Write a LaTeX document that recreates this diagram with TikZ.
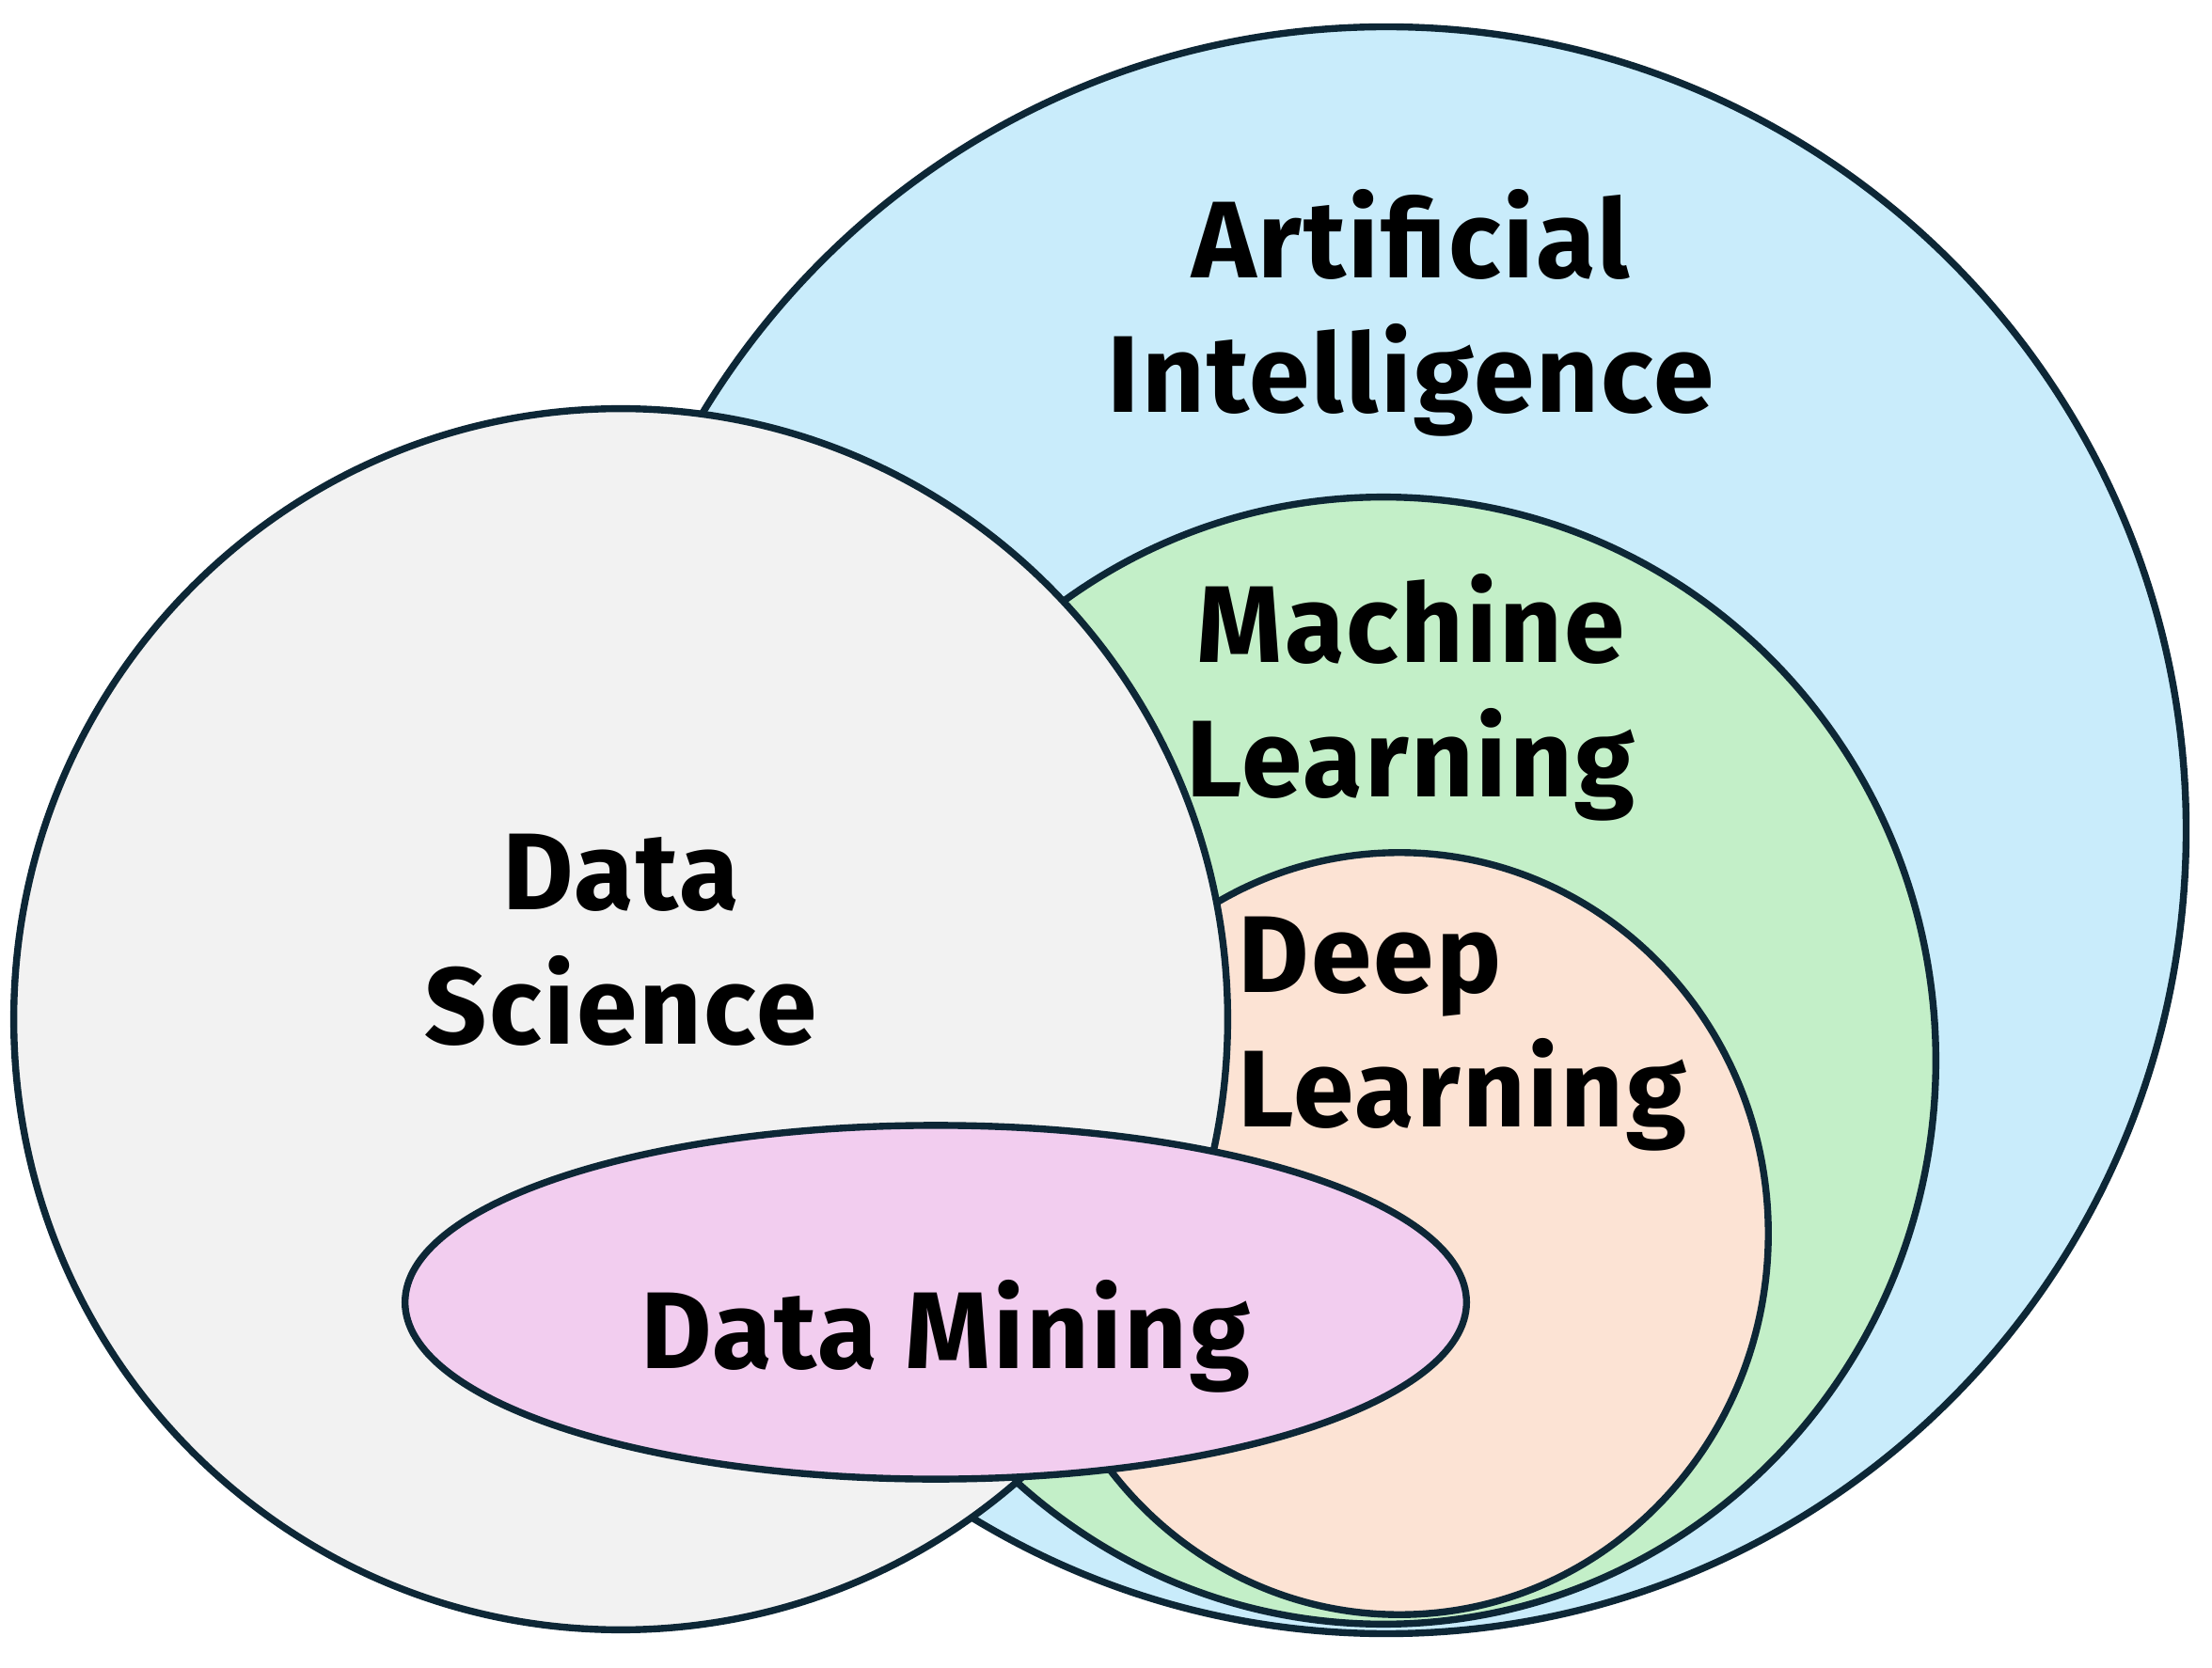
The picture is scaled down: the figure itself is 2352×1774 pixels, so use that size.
\documentclass[tikz,border=0pt]{standalone}
\usepackage{fontspec}
\setmainfont{Fira Sans}[LetterSpace=2.0]
\usetikzlibrary{shapes.geometric}
\definecolor{aiblue}{HTML}{C9ECFB}
\definecolor{mlgreen}{HTML}{C3EFC8}
\definecolor{dlpeach}{HTML}{FCE3D4}
\definecolor{dsgray}{HTML}{F2F2F2}
\definecolor{dmpink}{HTML}{F2CDEF}
\definecolor{rim}{HTML}{0D2736}
\tikzset{
  field/.style={ellipse, draw=rim, line width=2.1pt, inner sep=0pt, outer sep=0pt},
  fieldname/.style={font=\fontsize{33}{40.7}\selectfont\bfseries, inner sep=0pt, align=center}
}
\begin{document}
\begin{tikzpicture}[x=0.01cm, y=-0.01cm]
    \path[use as bounding box, fill=white] (0,0) rectangle (2352,1774);
    % Artificial intelligence circle
    \node[field, fill=aiblue, minimum width=17cm, minimum height=17.08cm] (ai) at (1474,883) {};
    % Machine learning circle
    \node[field, fill=mlgreen, minimum width=11.74cm, minimum height=11.98cm] (ml) at (1471,1128) {};
    % Deep learning circle
    \node[field, fill=dlpeach, minimum width=7.84cm, minimum height=8.1cm] (dl) at (1488,1312) {};
    % Data science circle
    \node[field, fill=dsgray, minimum width=12.9cm, minimum height=12.98cm] (ds) at (660,1084) {};
    % Data mining ellipse
    \node[field, fill=dmpink, minimum width=11.28cm, minimum height=3.76cm] (dm) at (995,1385) {};
    % Labels
    \node[fieldname] (ailabel) at (1500,333) {Artificial\\Intelligence};
    \node[fieldname] (mllabel) at (1500,742) {Machine\\Learning};
    \node[fieldname, align=left, anchor=west] (dllabel) at (1316,1100) {Deep\\Learning};
    \node[fieldname] (dslabel) at (660,1000) {Data\\Science};
    \node[fieldname] (dmlabel) at (1005,1421) {Data Mining};
\end{tikzpicture}
\end{document}
